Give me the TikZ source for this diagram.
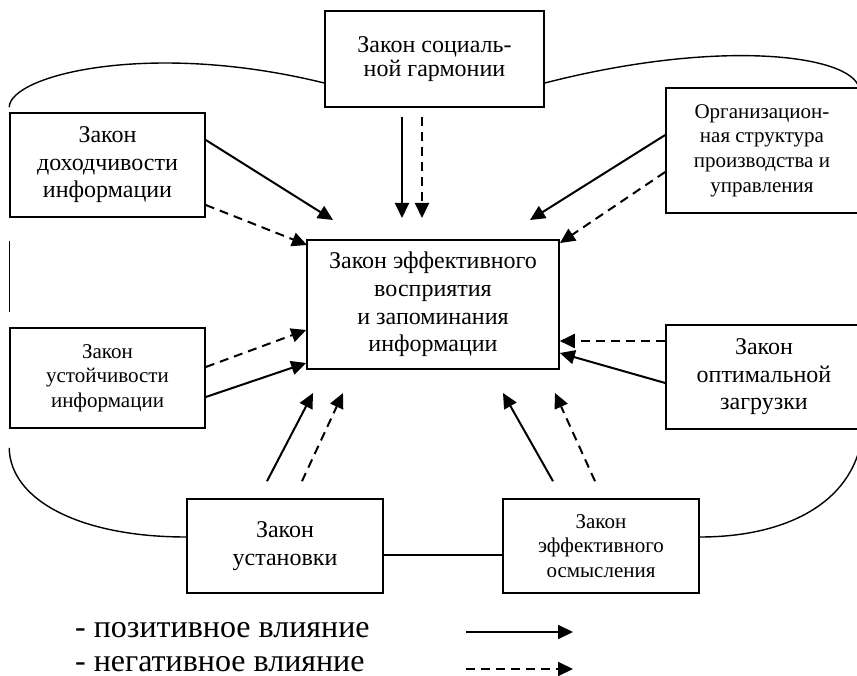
\documentclass[tikz,border=0pt]{standalone}
\usepackage{fontspec}
\setmainfont{Liberation Serif}
\usetikzlibrary{arrows.meta}
\begin{document}
\begin{tikzpicture}[x=1pt,y=-1pt,
  box/.style={draw, line width=1.6pt, align=center, inner sep=0pt},
  big/.style={font=\fontsize{24}{27.6}\selectfont},
  small/.style={font=\fontsize{21}{24.7}\selectfont},
  posarrow/.style={line width=2pt, -{Triangle[length=15pt,width=14pt]}},
  negarrow/.style={posarrow, dash pattern=on 9pt off 6pt},
  ring/.style={line width=1.4pt}]
\clip (0,0) rectangle (857,676);

% laws and the central node
\node[box, font=\fontsize{24}{24}\selectfont, minimum width=219pt, minimum height=96pt] (top) at (434.5,59) {Закон социаль-\\ной гармонии};
\node[box, big, minimum width=195pt, minimum height=104pt] (lt) at (107.5,165) {Закон\\доходчивости\\информации};
\node[box, small, minimum width=192pt, minimum height=125pt] (rt) at (762,150.5) {Организацион-\\ная структура\\производства и\\управления};
\node[box, big, minimum width=252pt, minimum height=129pt] (c) at (433,304.5) {Закон эффективного\\восприятия\\и запоминания\\информации};
\node[box, small, minimum width=195pt, minimum height=100pt] (lm) at (107.5,378) {Закон\\устойчивости\\информации};
\node[box, big, minimum width=196pt, minimum height=104pt] (rm) at (764,377) {Закон\\оптимальной\\загрузки};
\node[box, big, minimum width=196pt, minimum height=94pt] (bl) at (285,546) {Закон\\установки};
\node[box, small, minimum width=196pt, minimum height=94pt] (br) at (601,546) {Закон\\эффективного\\осмысления};

% outer ring linking the laws
\draw[ring] ([yshift=-24pt]top.west) .. controls (150,40) and (10,75) .. ([yshift=5pt]lt.north west);
\draw[ring] ([yshift=-24pt]top.east) .. controls (720,38) and (850,55) .. (rt.north east);
\draw[ring] ([yshift=-23pt]lt.south west) -- ([yshift=15pt]lm.north west);
\draw[ring] ([yshift=-19pt]lm.south west) .. controls (10,500) and (80,537) .. ([yshift=9pt]bl.west);
\draw[ring] ([yshift=9pt]br.east) .. controls (790,537) and (857,500) .. (rm.south east);
\draw[ring] ([yshift=-9pt]bl.east) -- ([yshift=-9pt]br.west);

% free ends of the influence arrows
\coordinate (t1) at (402,218);
\coordinate (t2) at (422,218);
\coordinate (l1) at (333,220);
\coordinate (l2) at (307,245);
\coordinate (r1) at (530,220);
\coordinate (r2) at (560,243);
\coordinate (b1) at (313,393);
\coordinate (b2) at (343,393);
\coordinate (b3) at (503,393);
\coordinate (b4) at (555,393);

% influences on the central law
\draw[posarrow] ([xshift=-32.5pt,yshift=-9pt]top.south) -- (t1);
\draw[negarrow] ([xshift=-12.5pt,yshift=-9pt]top.south) -- (t2);
\draw[posarrow] ([yshift=25pt]lt.east) -- (l1);
\draw[negarrow] ([yshift=-40pt]lt.east) -- (l2);
\draw[posarrow] ([yshift=15.5pt]rt.west) -- (r1);
\draw[negarrow] ([yshift=-21.5pt]rt.west) -- (r2);
\draw[negarrow] ([yshift=11pt]lm.east) -- ([yshift=-25.5pt]c.west);
\draw[posarrow] ([yshift=-19pt]lm.east) -- ([yshift=-58.5pt]c.west);
\draw[negarrow] ([yshift=36pt]rm.west) -- ([yshift=-36.5pt]c.east);
\draw[posarrow] ([yshift=-6pt]rm.west) -- ([yshift=-48.5pt]c.east);
\draw[posarrow] ([xshift=-18pt,yshift=17pt]bl.north) -- (b1);
\draw[negarrow] ([xshift=17pt,yshift=17pt]bl.north) -- (b2);
\draw[posarrow] ([xshift=-48pt,yshift=17pt]br.north) -- (b3);
\draw[negarrow] ([xshift=-6pt,yshift=17pt]br.north) -- (b4);

% legend
\node[anchor=west, inner sep=0pt, font=\fontsize{32}{36}\selectfont] (lpos) at (75,630) {- позитивное влияние};
\node[anchor=west, inner sep=0pt, font=\fontsize{32}{36}\selectfont] (lneg) at (75,664) {- негативное влияние};
\coordinate (ps) at (466,632);
\coordinate (pe) at (573,632);
\coordinate (ns) at (466,669);
\coordinate (ne) at (573,669);
\draw[posarrow] (ps) -- (pe);
\draw[negarrow] (ns) -- (ne);
\end{tikzpicture}
\end{document}
